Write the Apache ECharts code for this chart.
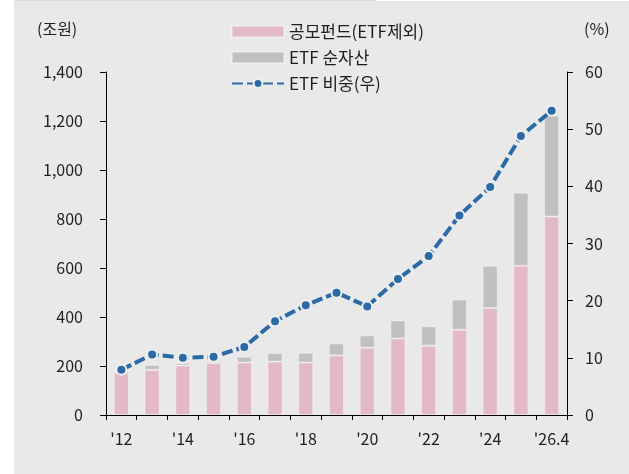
<!DOCTYPE html>
<html>
<head>
<meta charset="utf-8">
<script src="https://cdn.jsdelivr.net/npm/echarts@6/dist/echarts.min.js"></script>
<style>
  html, body { margin: 0; padding: 0; background: #fff; }
  #container { width: 629px; height: 474px; }
</style>
</head>
<body>
<div id="container"></div>
<script>
// 연도 (x축)
var years = ["'12", "'13", "'14", "'15", "'16", "'17", "'18", "'19", "'20", "'21", "'22", "'23", "'24", "'25", "'26.4"];
// 공모펀드(ETF제외), 조원
var fundExEtf = [172, 184, 202, 212, 214, 218, 214, 243, 275, 312, 283, 348, 437, 609, 810];
// ETF 순자산, 조원
var etfAssets = [8, 20, 10, 8, 24, 35, 40, 49, 50, 74, 79, 123, 172, 298, 412];
// ETF 비중(우), %
var etfShare = [7.9, 10.6, 10.0, 10.2, 11.9, 16.4, 19.2, 21.4, 19.0, 23.8, 27.8, 34.9, 39.9, 48.8, 53.2];

var dom = document.getElementById("container");
var myChart = echarts.init(dom);
var font = "'Noto Sans CJK KR', 'Noto Sans', sans-serif";
var txt = '#1e1e1e';

var option = {
    backgroundColor: '#ffffff',
    textStyle: { fontFamily: font },
    animation: false,
    graphic: [
        { type: 'rect', left: 14, top: 1, shape: { width: 615, height: 473 }, style: { fill: '#e9e9e9' }, z: -10 },
        { type: 'rect', left: 14, top: 0, shape: { width: 362, height: 1 }, style: { fill: '#d3dae3' }, z: -9 },
        { type: 'text', left: 37, top: 21, style: { text: '(조원)', font: '16px ' + font, fill: txt } },
        { type: 'text', left: 584, top: 21, style: { text: '(%)', font: '16px ' + font, fill: txt } }
    ],
    legend: {
        orient: 'vertical',
        left: 226,
        top: 18,
        itemWidth: 52,
        itemHeight: 11,
        itemGap: 9,
        textStyle: { fontSize: 17, color: txt, fontFamily: font },
        data: [
            { name: '공모펀드(ETF제외)', icon: 'rect' },
            { name: 'ETF 순자산', icon: 'rect' },
            { name: 'ETF 비중(우)' }
        ]
    },
    grid: { left: 106, right: 62, top: 72, bottom: 59 },
    xAxis: {
        type: 'category',
        data: years,
        boundaryGap: true,
        axisLine: { lineStyle: { color: '#000', width: 1 } },
        axisTick: { show: true, length: 5, interval: 0, lineStyle: { color: '#000' } },
        axisLabel: { interval: 1, color: txt, fontSize: 16, margin: 16, fontFamily: font }
    },
    yAxis: [{
        type: 'value',
        min: 0, max: 1400, interval: 200,
        axisLine: { show: true, lineStyle: { color: '#000', width: 1 } },
        axisTick: { show: true, length: 6, lineStyle: { color: '#000' } },
        splitLine: { show: false },
        axisLabel: {
            color: txt, fontSize: 16, margin: 23, fontFamily: font,
            formatter: function (v) { return v.toLocaleString('en-US'); }
        }
    }, {
        type: 'value',
        min: 0, max: 60, interval: 10,
        position: 'right',
        axisLine: { show: true, lineStyle: { color: '#000', width: 1 } },
        axisTick: { show: true, length: 6, lineStyle: { color: '#000' } },
        splitLine: { show: false },
        axisLabel: { color: txt, fontSize: 16, margin: 18, fontFamily: font }
    }],
    series: [{
        name: '공모펀드(ETF제외)',
        type: 'bar',
        stack: 'total',
        barWidth: 15,
        itemStyle: { color: '#e4b9c7', borderColor: 'rgba(255,255,255,0.35)', borderWidth: 1 },
        data: fundExEtf
    }, {
        name: 'ETF 순자산',
        type: 'bar',
        stack: 'total',
        barWidth: 15,
        itemStyle: { color: '#c0c0c0', borderColor: 'rgba(255,255,255,0.35)', borderWidth: 1 },
        data: etfAssets
    }, {
        name: 'ETF 비중(우)',
        type: 'line',
        yAxisIndex: 1,
        symbol: 'circle',
        symbolSize: 10,
        showSymbol: true,
        z: 5,
        lineStyle: { color: '#2b6aa7', width: 4, type: [11, 4] },
        itemStyle: { color: '#2b6aa7', borderColor: '#efefef', borderWidth: 2 },
        data: etfShare
    }]
};

myChart.setOption(option, true);
</script>
</body>
</html>
